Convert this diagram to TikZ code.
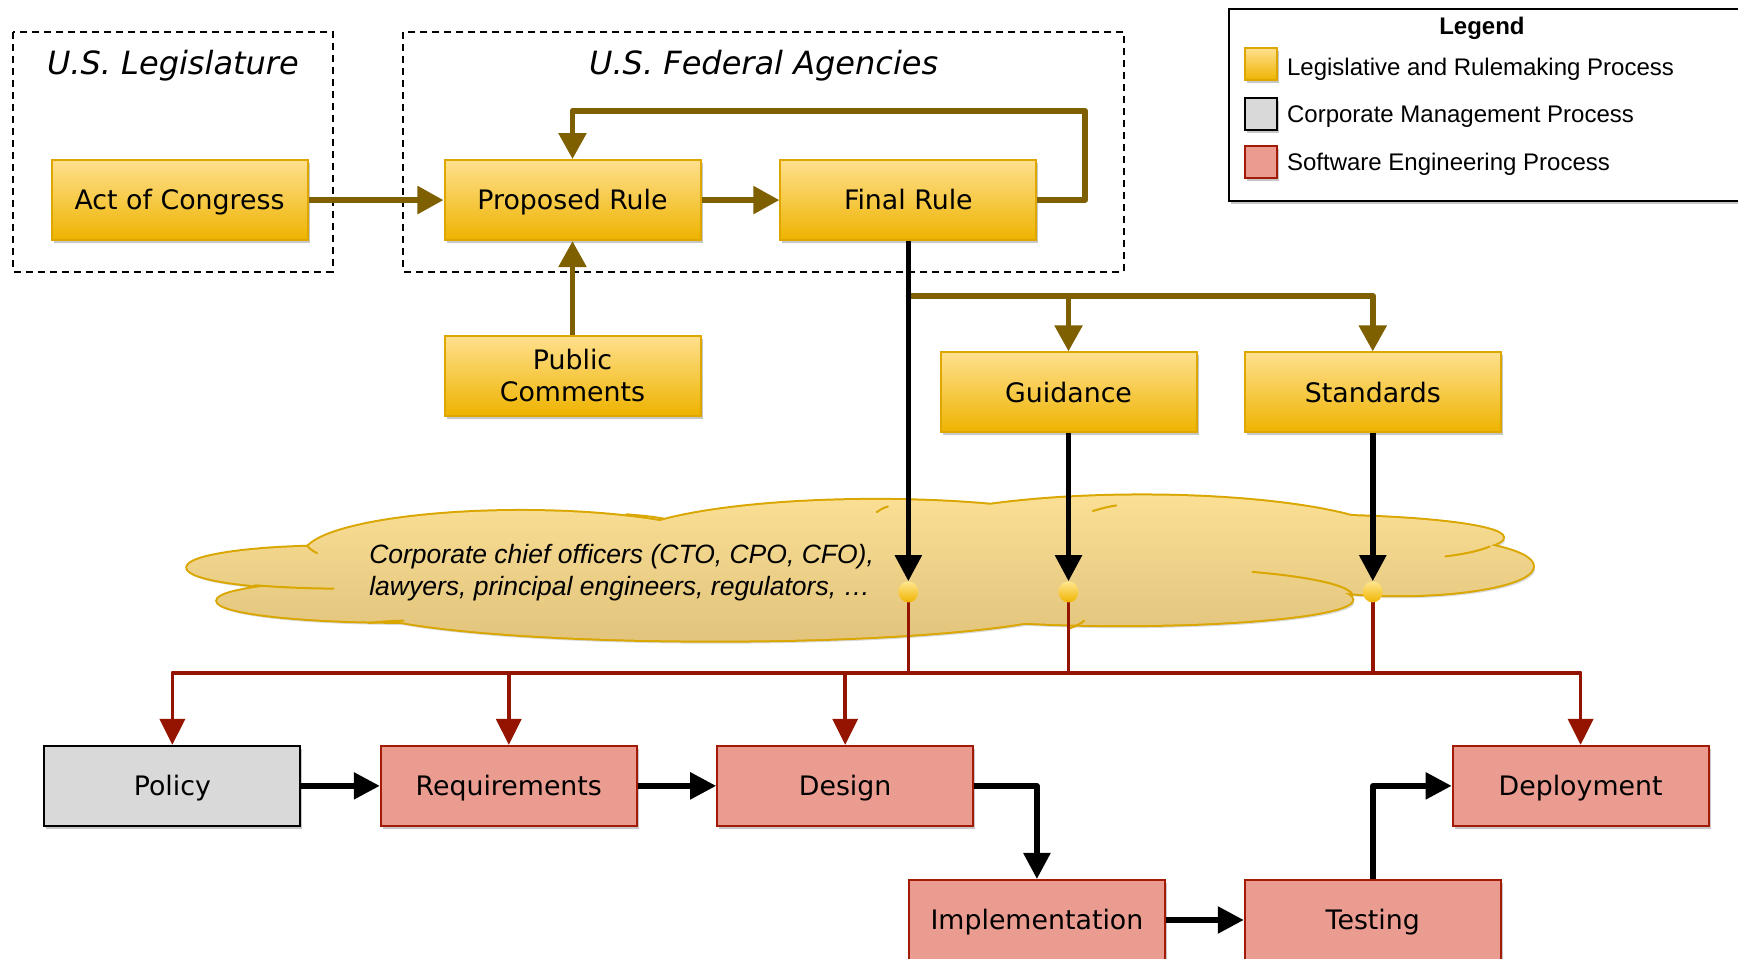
\documentclass[tikz,border=0pt]{standalone}
\usepackage{fontspec}
\setmainfont{DejaVu Sans}
\newfontfamily\arialf{Liberation Sans}
\usetikzlibrary{arrows.meta,shadows,shapes.geometric,calc}
\definecolor{goldtop}{HTML}{FFE08E}
\definecolor{goldbot}{HTML}{EEB300}
\definecolor{goldline}{HTML}{DDA700}
\definecolor{olive}{HTML}{7F6000}
\definecolor{redfill}{HTML}{EA9C91}
\definecolor{redline}{HTML}{A31B06}
\definecolor{redarrow}{HTML}{941400}
\definecolor{grayfill}{HTML}{D9D9D9}
\definecolor{cloudtop}{HTML}{FADF95}
\definecolor{cloudbot}{HTML}{E2C47C}
\definecolor{cloudline}{HTML}{DAA600}
\definecolor{dottop}{HTML}{FFE68F}
\definecolor{dotbot}{HTML}{F0B400}
\begin{document}
\begin{tikzpicture}[x=1.1084pt,y=-1.1084pt,
  shadowed/.style={drop shadow={shadow xshift=2pt,shadow yshift=-3pt,opacity=0.22,fill=black}},
  boxbase/.style={rectangle,minimum width=256pt,minimum height=80pt,inner sep=0pt,line width=2pt,
    font=\fontsize{26.8}{32}\selectfont,align=center,shadowed,text height=19.5pt,text depth=0pt},
  goldbox/.style={boxbase,draw=goldline,top color=goldtop,bottom color=goldbot},
  redbox/.style={boxbase,draw=redline,fill=redfill},
  graybox/.style={boxbase,draw=black,fill=grayfill},
  olivearr/.style={draw=olive,line width=5.5pt,line join=round,-{Triangle[length=26pt,width=27pt]}},
  blackarr/.style={draw=black,line width=5.5pt,line join=round,-{Triangle[length=26pt,width=26pt]}},
  redarr/.style={draw=redarrow,line width=3.5pt,line join=round,-{Triangle[length=26pt,width=25pt]}},
  redplain/.style={draw=redarrow,line width=3.5pt},
  groupbox/.style={draw=black,line width=2pt,dash pattern=on 7pt off 5pt},
  grouptitle/.style={font=\fontsize{32}{38}\selectfont\itshape,inner sep=0pt,text height=23pt,text depth=0pt},
  dot/.style={ellipse,minimum width=20pt,minimum height=21pt,inner sep=0pt,top color=dottop,bottom color=dotbot},
  swatch/.style={rectangle,minimum size=32pt,inner sep=0pt,line width=2pt,shadowed},
  legtext/.style={anchor=west,font=\arialf\fontsize{24}{28}\selectfont,inner sep=0pt,text height=17.2pt,text depth=0pt}
]
\useasboundingbox (0,0) rectangle (1568,865);

% group boxes
\draw[groupbox] (12,29) rectangle (300,245);
\draw[groupbox] (364,29) rectangle (1014,245);
\node[grouptitle] (tleg) at (156,57) {U.S. Legislature};
\node[grouptitle] (tfed) at (689,57) {U.S. Federal Agencies};

% legend
\draw[line width=2pt,fill=white,shadowed] (1109,8) rectangle (1575,181);
\node[font=\arialf\bfseries\fontsize{24}{28}\selectfont,inner sep=0pt,text height=17.2pt,text depth=0pt] (legt) at (1337,23) {Legend};
\node[swatch,draw=goldline,top color=goldtop,bottom color=goldbot] (s1) at (1137.5,58) {};
\node[swatch,draw=black,fill=grayfill] (s2) at (1137.5,102.5) {};
\node[swatch,draw=redline,fill=redfill] (s3) at (1137.5,146) {};
\node[legtext] (l1) at (1161,60) {Legislative and Rulemaking Process};
\node[legtext] (l2) at (1161,103) {Corporate Management Process};
\node[legtext] (l3) at (1161,146.5) {Software Engineering Process};

% cloud
\def\cloudpath{
  (300,512) ellipse [x radius=131,y radius=19]
  (360,542) ellipse [x radius=164,y radius=19]
  (470,500) ellipse [x radius=195,y radius=39]
  (790,492) ellipse [x radius=230,y radius=41]
  (1030,490) ellipse [x radius=230,y radius=43]
  (1175,485) ellipse [x radius=181,y radius=20]
  (1262,511) ellipse [x radius=121,y radius=26]
  (1012,541) ellipse [x radius=208,y radius=23]
  (645,545) ellipse [x radius=325,y radius=33]
  (800,512) ellipse [x radius=420,y radius=38]
}
\fill[black,opacity=0.15,xshift=2pt,yshift=-3pt] \cloudpath;
\draw[cloudline,line width=4pt] \cloudpath;
\shade[top color=cloudtop,bottom color=cloudbot] \cloudpath;
\draw[cloudline,line width=2pt,line cap=round]
  (230,528) .. controls (255,530) and (280,531) .. (301,531)
  (277,492) .. controls (279,495) and (282,497) .. (286,499)
  (333,562) .. controls (343,561) and (354,560) .. (364,560)
  (565,464) .. controls (577,465) and (589,466) .. (599,468)
  (791,462) .. controls (794,460) and (797,458) .. (801,457)
  (986,461) .. controls (993,459) and (1000,457) .. (1007,456)
  (965,567) .. controls (970,565) and (975,563) .. (978,560)
  (1130,516) .. controls (1190,521) and (1222,530) .. (1220,538)
  (1304,502) .. controls (1320,500) and (1335,497) .. (1344,493);
\node[anchor=west,align=left,inner sep=0pt,text height=51pt,text depth=0pt,
  font=\arialf\itshape\fontsize{26.5}{32}\selectfont] (ctext) at (333,514.5)
  {Corporate chief officers (CTO, CPO, CFO),\\lawyers, principal engineers, regulators, …};

% boxes
\node[goldbox] (act) at (162,180.5) {Act of Congress};
\node[goldbox] (prop) at (516.5,180.5) {Proposed Rule};
\node[goldbox] (final) at (819.5,180.5) {Final Rule};
\node[goldbox,text height=51.5pt,text depth=0pt] (pub) at (516.5,339) {Public\\Comments};
\node[goldbox] (guid) at (964,354) {Guidance};
\node[goldbox] (stand) at (1238.5,354) {Standards};
\node[graybox] (policy) at (155.5,709) {Policy};
\node[redbox] (req) at (459,709) {Requirements};
\node[redbox] (design) at (762.5,709) {Design};
\node[redbox] (deploy) at (1426,709) {Deployment};
\node[redbox] (impl) at (935.5,830) {Implementation};
\node[redbox] (test) at (1238.5,830) {Testing};

% coordinates
\coordinate (loopR) at (979,100);
\coordinate (brY) at (0,267);
\coordinate (dY) at (0,534);
\coordinate (rj) at (0,607);
\coordinate (br) at (final.south |- brY);
\coordinate (d1) at (final.south |- dY);
\coordinate (d2) at (guid.south |- dY);
\coordinate (d3) at (stand.south |- dY);

% olive connectors
\draw[olivearr] (act.east) -- (prop.west);
\draw[olivearr] (prop.east) -- (final.west);
\draw[olivearr] (final.east) -| (loopR) -| (prop.north);
\draw[olivearr] (pub.north) -- (prop.south);
\draw[olivearr] (br) -| (guid.north);
\draw[olivearr] (br) -| (stand.north);

% red connectors
\draw[redplain] (d1) -- (d1 |- rj);
\draw[redplain] (d2) -- (d2 |- rj);
\draw[redplain] (d3) -- (d3 |- rj);
\draw[redarr] (d1 |- rj) -| (policy.north);
\draw[redarr] (d1 |- rj) -| (req.north);
\draw[redarr] (d1 |- rj) -| (design.north);
\draw[redarr] (d1 |- rj) -| (deploy.north);

% dots
\node[dot] (dot1) at (d1) {};
\node[dot] (dot2) at (d2) {};
\node[dot] (dot3) at (d3) {};

% black connectors
\draw[blackarr] (final.south) -- (dot1.north);
\draw[blackarr] (guid.south) -- (dot2.north);
\draw[blackarr] (stand.south) -- (dot3.north);
\draw[blackarr] (policy.east) -- (req.west);
\draw[blackarr] (req.east) -- (design.west);
\draw[blackarr] (design.east) -| (impl.north);
\draw[blackarr] (impl.east) -- (test.west);
\draw[blackarr] (test.north) |- (deploy.west);
\end{tikzpicture}
\end{document}
